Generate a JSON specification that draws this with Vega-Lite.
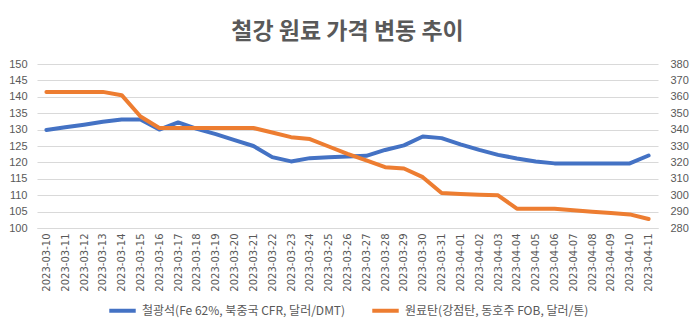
{
  "$schema": "https://vega.github.io/schema/vega-lite/v6.json",
  "autosize": {"type": "none"},
  "width": 621,
  "height": 164,
  "padding": {"left": 37, "top": 64, "right": 38, "bottom": 104},
  "background": "white",
  "title": {"text": "철강 원료 가격 변동 추이", "font": "Noto Sans CJK KR", "fontSize": 23, "fontWeight": "bold", "color": "#595959", "anchor": "middle", "offset": 14},
  "config": {
    "view": {"stroke": null},
    "font": "Noto Sans CJK KR",
    "legend": {"layout": {"bottom": {"anchor": "middle"}}}
  },
  "data": {"values": [
    {"date": "2023-03-10", "iron": 129.9, "coal": 363},
    {"date": "2023-03-11", "iron": 130.7, "coal": 363},
    {"date": "2023-03-12", "iron": 131.5, "coal": 363},
    {"date": "2023-03-13", "iron": 132.4, "coal": 363},
    {"date": "2023-03-14", "iron": 133.1, "coal": 361},
    {"date": "2023-03-15", "iron": 133.1, "coal": 348},
    {"date": "2023-03-16", "iron": 130.0, "coal": 341},
    {"date": "2023-03-17", "iron": 132.2, "coal": 341},
    {"date": "2023-03-18", "iron": 130.2, "coal": 341},
    {"date": "2023-03-19", "iron": 128.6, "coal": 341},
    {"date": "2023-03-20", "iron": 126.8, "coal": 341},
    {"date": "2023-03-21", "iron": 125.0, "coal": 341},
    {"date": "2023-03-22", "iron": 121.6, "coal": 338.2},
    {"date": "2023-03-23", "iron": 120.3, "coal": 335.4},
    {"date": "2023-03-24", "iron": 121.3, "coal": 334.2},
    {"date": "2023-03-25", "iron": 121.6, "coal": 329.7},
    {"date": "2023-03-26", "iron": 121.8, "coal": 325.2},
    {"date": "2023-03-27", "iron": 122.0, "coal": 321.2},
    {"date": "2023-03-28", "iron": 123.8, "coal": 317.1},
    {"date": "2023-03-29", "iron": 125.2, "coal": 316.3},
    {"date": "2023-03-30", "iron": 127.9, "coal": 311.0},
    {"date": "2023-03-31", "iron": 127.4, "coal": 301.3},
    {"date": "2023-04-01", "iron": 125.5, "coal": 300.8},
    {"date": "2023-04-02", "iron": 123.8, "coal": 300.3},
    {"date": "2023-04-03", "iron": 122.3, "coal": 299.9},
    {"date": "2023-04-04", "iron": 121.2, "coal": 291.8},
    {"date": "2023-04-05", "iron": 120.3, "coal": 291.8},
    {"date": "2023-04-06", "iron": 119.7, "coal": 291.8},
    {"date": "2023-04-07", "iron": 119.7, "coal": 290.8},
    {"date": "2023-04-08", "iron": 119.7, "coal": 289.9},
    {"date": "2023-04-09", "iron": 119.7, "coal": 289.1},
    {"date": "2023-04-10", "iron": 119.7, "coal": 288.3},
    {"date": "2023-04-11", "iron": 122.1, "coal": 285.5}
  ]},
  "encoding": {
    "x": {
      "field": "date", "type": "ordinal",
      "axis": {"title": null, "labelAngle": -90, "labelFontSize": 10, "labelColor": "#595959", "labelFont": "DejaVu Sans", "ticks": false, "domainColor": "#D9D9D9", "labelPadding": 5}
    },
    "color": {
      "type": "nominal",
      "scale": {
        "domain": ["철광석(Fe 62%, 북중국 CFR, 달러/DMT)", "원료탄(강점탄, 동호주 FOB, 달러/톤)"],
        "range": ["#4472C4", "#ED7D31"]
      },
      "legend": {
        "title": null, "orient": "bottom", "direction": "horizontal", "symbolType": "stroke", "symbolStrokeWidth": 4, "symbolSize": 700,
        "labelFontSize": 12, "labelColor": "#595959", "labelLimit": 400, "columnPadding": 18, "offset": 3
      }
    }
  },
  "layer": [
    {
      "mark": {"type": "line", "strokeWidth": 4, "strokeCap": "round", "strokeJoin": "round"},
      "encoding": {
        "y": {
          "field": "iron", "type": "quantitative",
          "scale": {"domain": [100, 150], "nice": false, "zero": false},
          "axis": {"title": null, "values": [100, 105, 110, 115, 120, 125, 130, 135, 140, 145, 150], "grid": true, "gridColor": "#D9D9D9", "domain": false, "ticks": false, "labelColor": "#595959", "labelFontSize": 11, "labelFont": "Liberation Sans", "labelPadding": 10}
        },
        "color": {"datum": "철광석(Fe 62%, 북중국 CFR, 달러/DMT)", "type": "nominal"}
      }
    },
    {
      "mark": {"type": "line", "strokeWidth": 4, "strokeCap": "round", "strokeJoin": "round"},
      "encoding": {
        "y": {
          "field": "coal", "type": "quantitative",
          "scale": {"domain": [280, 380], "nice": false, "zero": false},
          "axis": {"title": null, "orient": "right", "values": [280, 290, 300, 310, 320, 330, 340, 350, 360, 370, 380], "grid": false, "domain": false, "ticks": false, "labelColor": "#595959", "labelFontSize": 11, "labelFont": "Liberation Sans", "labelPadding": 12}
        },
        "color": {"datum": "원료탄(강점탄, 동호주 FOB, 달러/톤)", "type": "nominal"}
      }
    }
  ],
  "resolve": {"scale": {"y": "independent"}}
}
